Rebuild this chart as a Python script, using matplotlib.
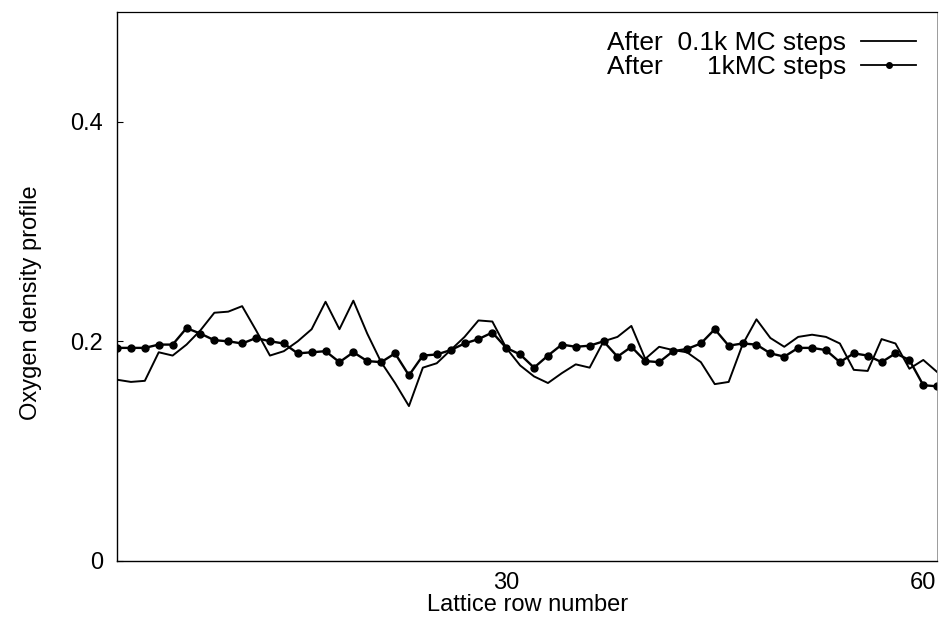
import matplotlib

matplotlib.use("Agg")
import matplotlib.pyplot as plt
from matplotlib.lines import Line2D

plt.rcParams["font.family"] = ["Liberation Sans", "DejaVu Sans"]

# lattice rows along the cell
rows = list(range(2, 62))

# oxygen density per row after 0.1k MC steps
density_short = [
    0.165, 0.163, 0.164, 0.190, 0.187, 0.197, 0.210, 0.226, 0.227, 0.232,
    0.210, 0.187, 0.191, 0.200, 0.211, 0.236, 0.211, 0.237, 0.207, 0.181,
    0.162, 0.141, 0.176, 0.180, 0.192, 0.204, 0.219, 0.218, 0.194, 0.178,
    0.168, 0.162, 0.171, 0.179, 0.176, 0.200, 0.204, 0.214, 0.184, 0.195,
    0.192, 0.190, 0.181, 0.161, 0.163, 0.197, 0.220, 0.203, 0.195, 0.204,
    0.206, 0.204, 0.198, 0.174, 0.173, 0.202, 0.198, 0.175, 0.183, 0.172,
]

# oxygen density per row after 1k MC steps
density_long = [
    0.194, 0.194, 0.194, 0.197, 0.197, 0.212, 0.207, 0.201, 0.200, 0.198,
    0.203, 0.200, 0.198, 0.189, 0.190, 0.191, 0.181, 0.190, 0.182, 0.181,
    0.189, 0.169, 0.187, 0.188, 0.192, 0.198, 0.202, 0.208, 0.194, 0.188,
    0.176, 0.187, 0.197, 0.195, 0.196, 0.200, 0.186, 0.195, 0.182, 0.181,
    0.191, 0.193, 0.198, 0.211, 0.196, 0.198, 0.197, 0.189, 0.186, 0.194,
    0.194, 0.192, 0.181, 0.189, 0.187, 0.181, 0.189, 0.183, 0.160, 0.159,
]

x_ticks = [30, 60]
y_ticks = [0, 0.2, 0.4]
y_tick_labels = ["0", "0.2", "0.4"]

fig = plt.figure(figsize=(9.4, 6.26), dpi=100)
ax = fig.add_axes([0.1245, 0.104, 0.8725, 0.877])

ax.plot(rows, density_short, color="black", linewidth=1.4)
ax.plot(rows, density_long, color="black", linewidth=1.7,
        marker="o", markersize=5)

ax.set_xlim(2, 61)
ax.set_ylim(0, 0.5)
ax.set_xticks(x_ticks)
ax.set_yticks(y_ticks)
ax.set_yticklabels(y_tick_labels)
ax.tick_params(axis="x", length=0, labelsize=17, pad=8)
ax.tick_params(axis="y", direction="in", length=4, labelsize=17, pad=10)

for side in ("left", "bottom"):
    ax.spines[side].set_linewidth(1.0)
ax.spines["top"].set_linewidth(0.9)
ax.spines["right"].set_linewidth(0.6)
ax.spines["right"].set_color("0.55")

ax.set_xlabel("Lattice row number", fontsize=17, labelpad=0)
ax.set_ylabel("Oxygen density profile", fontsize=17)
ax.yaxis.set_label_coords(-0.091, 0.47)

handles = [
    Line2D([], [], color="black", linewidth=1.3),
    Line2D([], [], color="black", linewidth=1.3, marker="o", markersize=4),
]
labels = ["After  0.1k MC steps", "After      1kMC steps"]
ax.legend(handles, labels, loc="upper right", bbox_to_anchor=(0.997, 0.998),
          frameon=False, markerfirst=False, fontsize=19, handlelength=2.1,
          handletextpad=0.57, labelspacing=0.0, borderpad=0.2, numpoints=1)

fig.savefig("out.png", dpi=100)
